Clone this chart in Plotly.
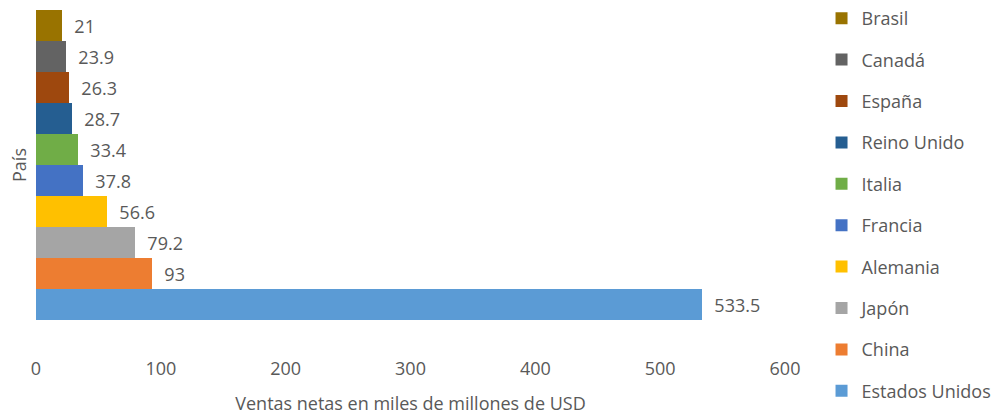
import plotly.graph_objects as go

# Net sales by country (billions of USD), listed top to bottom
countries = ["Brasil", "Canadá", "España", "Reino Unido", "Italia",
             "Francia", "Alemania", "Japón", "China", "Estados Unidos"]
sales = [21, 23.9, 26.3, 28.7, 33.4, 37.8, 56.6, 79.2, 93, 533.5]
colors = ["#997300", "#636363", "#9E480E", "#255E91", "#70AD47",
          "#4472C4", "#FFC000", "#A5A5A5", "#ED7D31", "#5B9BD5"]
x_ticks = [0, 100, 200, 300, 400, 500, 600]

FONT = "'Open Sans', Lato, sans-serif"
GRAY = "#595959"

fig = go.Figure()
for name, val, col in zip(countries, sales, colors):
    fig.add_trace(go.Bar(
        y=[""], x=[val], name=name, orientation="h",
        marker=dict(color=col, line=dict(width=0)),
        text=[val], texttemplate="  %{x}", textposition="outside",
        textfont=dict(family=FONT, size=18, color=GRAY),
        cliponaxis=False, legendgroup=name,
    ))

fig.update_layout(
    width=997, height=415,
    margin=dict(l=36, r=212, t=10, b=95, autoexpand=False),
    paper_bgcolor="white", plot_bgcolor="white",
    barmode="group", bargap=0, bargroupgap=0,
    font=dict(family=FONT, size=18, color=GRAY),
    showlegend=True,
    legend=dict(
        traceorder="grouped",
        xref="container", x=0.824, xanchor="left",
        yref="container", y=1.0, yanchor="top",
        font=dict(family=FONT, size=18, color=GRAY),
        tracegroupgap=15, itemwidth=30, bgcolor="rgba(0,0,0,0)",
        maxheight=415,
    ),
    xaxis=dict(
        range=[0, 600], tickvals=x_ticks, showgrid=False, zeroline=False,
        showline=False, ticks="", ticklabelstandoff=36,
        tickfont=dict(family=FONT, size=18, color=GRAY),
        title=dict(text="Ventas netas en miles de millones de USD", standoff=20,
                   font=dict(family=FONT, size=18, color=GRAY)),
    ),
    yaxis=dict(
        showticklabels=False, showgrid=False, zeroline=False, showline=False,
        ticks="", range=[0.5, -0.5],
        title=dict(text="País", standoff=3,
                   font=dict(family=FONT, size=18, color=GRAY)),
    ),
)
fig.update_traces(constraintext="none")

fig.write_html("out.html")
